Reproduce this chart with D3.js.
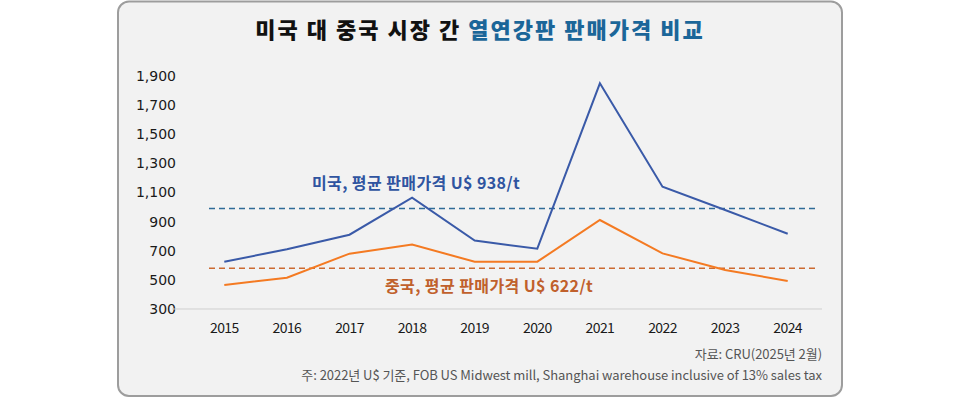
<!DOCTYPE html>
<html>
<head>
<meta charset="utf-8">
<script src="https://cdn.jsdelivr.net/npm/d3@7"></script>
<style>
  html, body { margin: 0; padding: 0; background: #fff; }
  svg { display: block; }
</style>
</head>
<body>
<div id="chart"></div>
<script>
// ---- Data ----
const years = ["2015", "2016", "2017", "2018", "2019", "2020", "2021", "2022", "2023", "2024"];
const usPrice = [625, 710, 810, 1064, 770, 714, 1850, 1140, 980, 817];
const cnPrice = [465, 515, 680, 742, 625, 625, 911, 682, 568, 492];
const yTicks = [300, 500, 700, 900, 1100, 1300, 1500, 1700, 1900];
// dashed average guides: drawn position and the label printed for them
const avgLevels = [990, 580];
const avgLabels = ["미국, 평균 판매가격 U$ 938/t", "중국, 평균 판매가격 U$ 622/t"];

const W = 960, H = 398;
const COL = {
  us: "#3a5aa8", cn: "#f47a22",
  usDash: "#2f6b98", cnDash: "#cc6a30",
  usText: "#2f54a0", cnText: "#c0602c",
  title: "#1b6699"
};
const FONT = "'Noto Sans CJK KR', 'Noto Sans', sans-serif";

const svg = d3.select("#chart").append("svg")
  .attr("width", W).attr("height", H);

// ---- Card ----
svg.append("rect")
  .attr("x", 118).attr("y", 1.5)
  .attr("width", 724).attr("height", 394.5)
  .attr("rx", 11)
  .attr("fill", "#f2f2f2")
  .attr("stroke", "#9d9d9d")
  .attr("stroke-width", 2);

// ---- Title ----
const title = svg.append("text")
  .attr("x", 480).attr("y", 38)
  .attr("text-anchor", "middle")
  .style("font-family", FONT)
  .style("font-size", "22px")
  .style("font-weight", 900)
  .style("letter-spacing", "2px");
title.append("tspan").attr("fill", "#111").text("미국 대 중국 시장 간 ");
title.append("tspan").attr("fill", COL.title).text("열연강판 판매가격 비교");

// ---- Scales ----
const x = d3.scaleBand().domain(years).range([193, 819]);
const y = d3.scaleLinear().domain([300, 1900]).range([309, 76]);
const cx = d => x(d) + x.bandwidth() / 2;

// ---- Axes ----
const yAxis = svg.append("g")
  .attr("transform", "translate(176,0)")
  .call(d3.axisLeft(y).tickValues(yTicks).tickSize(0).tickPadding(0)
    .tickFormat(d3.format(",")));
yAxis.select(".domain").remove();
yAxis.selectAll("text")
  .style("font-family", "'DejaVu Sans', sans-serif")
  .style("font-size", "14px")
  .attr("fill", "#1a1a1a");

svg.append("line")
  .attr("x1", 172).attr("x2", 822)
  .attr("y1", y(300)).attr("y2", y(300))
  .attr("stroke", "#cfcfcf").attr("stroke-width", 1);

const xAxis = svg.append("g")
  .attr("transform", `translate(0,${y(300)})`)
  .call(d3.axisBottom(x).tickSize(0).tickPadding(14));
xAxis.select(".domain").remove();
xAxis.selectAll("text")
  .style("font-family", FONT)
  .style("font-size", "14px")
  .style("letter-spacing", "-0.6px")
  .attr("fill", "#1a1a1a");

// ---- Average guides ----
svg.selectAll(".avg")
  .data(avgLevels)
  .join("line")
  .attr("class", "avg")
  .attr("x1", 209).attr("x2", 816)
  .attr("y1", d => y(d)).attr("y2", d => y(d))
  .attr("stroke", (d, i) => i === 0 ? COL.usDash : COL.cnDash)
  .attr("stroke-width", 1.4)
  .attr("stroke-dasharray", "6,4");

// ---- Lines ----
const line = d3.line().x((d, i) => cx(years[i])).y(d => y(d));
[[usPrice, COL.us], [cnPrice, COL.cn]].forEach(([vals, c]) => {
  svg.append("path")
    .datum(vals)
    .attr("d", line)
    .attr("fill", "none")
    .attr("stroke", c)
    .attr("stroke-width", 2);
});

// ---- Average labels ----
[[avgLabels[0], 312, 189, COL.usText], [avgLabels[1], 385, 292, COL.cnText]]
  .forEach(([t, lx, ly, c]) => {
    svg.append("text")
      .attr("x", lx).attr("y", ly)
      .style("font-family", FONT)
      .style("font-size", "16px")
      .style("font-weight", 700)
      .style("letter-spacing", "0.4px")
      .attr("fill", c)
      .text(t);
  });

// ---- Source notes ----
const notes = ["자료: CRU(2025년 2월)",
  "주: 2022년 U$ 기준, FOB US Midwest mill, Shanghai warehouse inclusive of 13% sales tax"];
svg.selectAll(".note")
  .data(notes)
  .join("text")
  .attr("class", "note")
  .attr("x", 822)
  .attr("y", (d, i) => 359 + i * 21)
  .attr("text-anchor", "end")
  .style("font-family", FONT)
  .style("font-size", "13px")
  .style("letter-spacing", "-0.05px")
  .attr("fill", "#555")
  .text(d => d);
</script>
</body>
</html>
